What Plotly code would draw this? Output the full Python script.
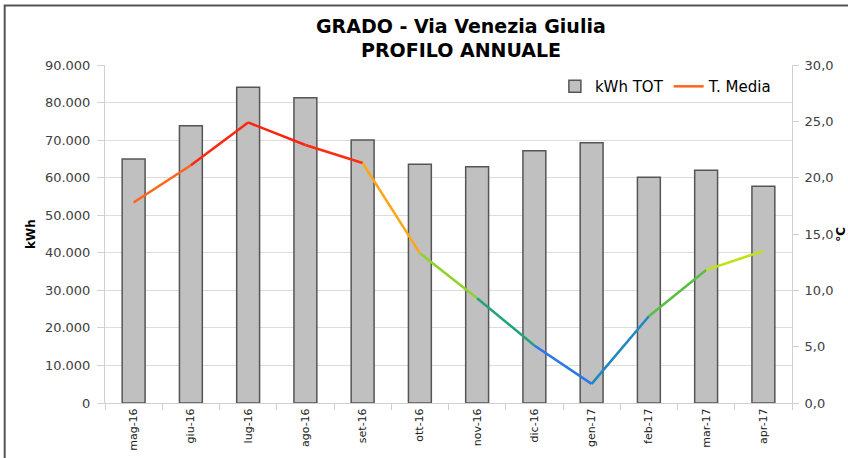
import plotly.graph_objects as go

months = ["mag-16", "giu-16", "lug-16", "ago-16", "set-16", "ott-16",
          "nov-16", "dic-16", "gen-17", "feb-17", "mar-17", "apr-17"]
kwh_tot = [65000, 73800, 84100, 81300, 70000, 63600,
           62900, 67200, 69300, 60100, 62000, 57700]
t_media = [17.8, 21.1, 24.9, 22.9, 21.3, 13.3,
           9.3, 5.1, 1.7, 7.7, 11.8, 13.5]
title_lines = ["GRADO - Via Venezia Giulia", "PROFILO ANNUALE"]

# colour stops (temperature -> colour) used for the line segments
temp_stops = [0, 3, 6, 9, 12, 14, 18, 21, 30]
color_stops = [(40, 100, 255), (45, 115, 240), (20, 150, 160), (60, 180, 80),
               (170, 220, 30), (240, 240, 0), (255, 150, 30), (255, 50, 20), (255, 0, 0)]


def temp_color(t):
    for i in range(len(temp_stops) - 1):
        a, b = temp_stops[i], temp_stops[i + 1]
        if a <= t <= b:
            f = (t - a) / (b - a)
            c0, c1 = color_stops[i], color_stops[i + 1]
            c = [round(c0[k] + (c1[k] - c0[k]) * f) for k in range(3)]
            return "rgb(%d,%d,%d)" % tuple(c)
    return "rgb(255,0,0)"


fig = go.Figure()
fig.add_trace(go.Bar(
    x=months, y=kwh_tot, name="kWh TOT",
    marker=dict(color="#c0c0c0", line=dict(color="#555555", width=1.5)),
    width=0.4,
))

for i in range(len(months) - 1):
    tm = (t_media[i] + t_media[i + 1]) / 2
    fig.add_trace(go.Scatter(
        x=[months[i], months[i + 1]], y=[t_media[i], t_media[i + 1]],
        mode="lines", yaxis="y2",
        line=dict(color=temp_color(tm), width=2.5),
        name="T. Media", showlegend=(i == 0), legendgroup="t",
        hoverinfo="skip",
    ))

font_family = "DejaVu Sans, Verdana, sans-serif"

fig.update_layout(
    width=848, height=458, autosize=False,
    margin=dict(l=105, r=56, t=65, b=55, autoexpand=False),
    paper_bgcolor="white", plot_bgcolor="white",
    separators=",.",
    font=dict(family=font_family, size=12, color="#404040"),
    showlegend=True,
    legend=dict(
        orientation="h", x=0.978, xanchor="right", y=0.985, yanchor="top",
        bgcolor="rgba(0,0,0,0)", font=dict(size=15, color="#000000"),
        itemwidth=30, traceorder="normal",
    ),
    xaxis=dict(
        showgrid=False, showline=True, linecolor="#d0d0d0", linewidth=1,
        ticks="outside", tickson="boundaries", ticklen=6, tickcolor="#d0d0d0",
        tickangle=-90, tickfont=dict(size=11, color="#202020"),
    ),
    yaxis=dict(
        range=[0, 90000], dtick=10000, tickformat=",.0f",
        showgrid=True, gridcolor="#dcdcdc", gridwidth=1,
        showline=True, linecolor="#d0d0d0", ticks="outside", ticklen=7,
        tickcolor="#d0d0d0", zeroline=False, ticklabelstandoff=4,
        title=dict(text="<b>kWh</b>", standoff=6, font=dict(size=12, color="#000000")),
        tickfont=dict(size=13, color="#404040"),
    ),
    yaxis2=dict(
        range=[0, 30], dtick=5, tickformat=".1f", overlaying="y", side="right",
        showgrid=False, showline=True, linecolor="#d0d0d0", ticks="outside",
        ticklen=6, tickcolor="#d0d0d0", zeroline=False, ticklabelstandoff=3,
        tickfont=dict(size=13, color="#404040"),
    ),
    annotations=[
        dict(text="<b>%s</b>" % title_lines[0], xref="paper", yref="paper",
             x=0.518, y=1.114, xanchor="center", yanchor="middle", showarrow=False,
             font=dict(family=font_family, size=19, color="#000000")),
        dict(text="<b>%s</b>" % title_lines[1], xref="paper", yref="paper",
             x=0.518, y=1.043, xanchor="center", yanchor="middle", showarrow=False,
             font=dict(family=font_family, size=19, color="#000000")),
        dict(text="<b>°C</b>", xref="paper", yref="paper",
             x=1.071, y=0.5, xanchor="center", yanchor="middle", showarrow=False,
             textangle=-90, font=dict(family=font_family, size=12, color="#000000")),
    ],
    shapes=[dict(
        type="rect", xref="paper", yref="paper",
        x0=-0.146, x1=1.3, y0=-0.3, y1=1.176,
        line=dict(color="#555555", width=2), fillcolor="rgba(0,0,0,0)",
        layer="above",
    )],
)

fig.write_html(
    "out.html",
    config={"displayModeBar": False},
    post_script="document.body.style.margin='0';document.body.style.overflow='hidden';",
)
